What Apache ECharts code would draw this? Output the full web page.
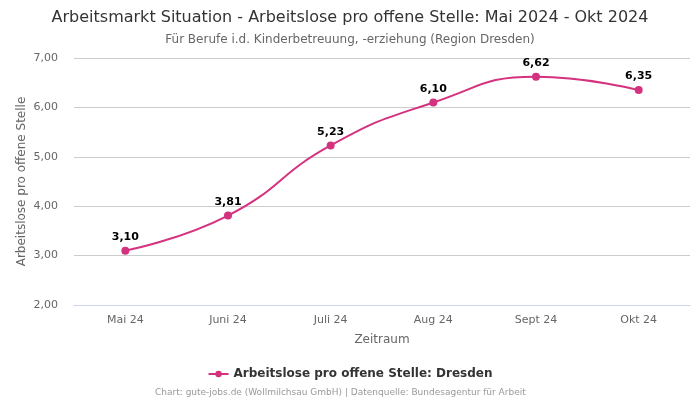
<!DOCTYPE html>
<html><head><meta charset="utf-8">
<script src="https://cdn.jsdelivr.net/npm/echarts@6/dist/echarts.min.js"></script>
<style>html,body{margin:0;padding:0;background:#fff}#c{width:700px;height:400px}</style>
</head><body><div id="c"></div>
<script>
var categories = ["Mai 24","Juni 24","Juli 24","Aug 24","Sept 24","Okt 24"];
var values = [3.10, 3.81, 5.23, 6.10, 6.62, 6.35];
var seriesName = "Arbeitslose pro offene Stelle: Dresden";
var chart = echarts.init(document.getElementById('c'));
var fmt = function(v){ return Number(v).toFixed(2).replace('.', ','); };
chart.setOption({
  animation:false,
  textStyle:{fontFamily:'DejaVu Sans'},
  title:[
    {text:'Arbeitsmarkt Situation - Arbeitslose pro offene Stelle: Mai 2024 - Okt 2024', left:'center', top:5,
     textStyle:{fontSize:16, fontWeight:'normal', color:'#333', fontFamily:'DejaVu Sans'}},
    {text:'Für Berufe i.d. Kinderbetreuung, -erziehung (Region Dresden)', left:'center', top:29,
     textStyle:{fontSize:12, fontWeight:'normal', color:'#666', fontFamily:'DejaVu Sans'}},
    {text:'Chart: gute-jobs.de (Wollmilchsau GmbH) | Datenquelle: Bundesagentur für Arbeit', left:150, top:383,
     textStyle:{fontSize:9, fontWeight:'normal', color:'#999', fontFamily:'DejaVu Sans'}}
  ],
  legend:{top:363, left:'center', itemWidth:20, itemHeight:8,
    textStyle:{fontSize:12, fontWeight:'bold', color:'#333'}, data:[seriesName]},
  grid:{left:74, right:10, top:58, bottom:95},
  xAxis:{type:'category', data:categories, boundaryGap:true,
    name:'Zeitraum', nameLocation:'middle', nameGap:29, nameTextStyle:{fontSize:12, color:'#666'},
    axisLine:{lineStyle:{color:'#ccd6eb'}}, axisTick:{show:false},
    axisLabel:{fontSize:11, color:'#666', margin:10}},
  yAxis:{type:'value', min:2, max:7, interval:1,
    name:'Arbeitslose pro offene Stelle', nameLocation:'middle', nameGap:46, nameMoveOverlap:false,
    nameTextStyle:{fontSize:12, color:'#666'},
    axisLabel:{formatter:fmt, fontSize:11, color:'#666', margin:16},
    splitLine:{lineStyle:{color:'#ccc'}}, axisLine:{show:false}, axisTick:{show:false}},
  series:[{name:seriesName, type:'line', data:values, smooth:0.5,
    symbol:'circle', symbolSize:8,
    itemStyle:{color:'#d4317e'}, lineStyle:{color:'#d4317e', width:2},
    label:{show:true, position:'top', formatter:function(p){return fmt(p.value);},
      fontSize:11, fontWeight:'bold', color:'#000', distance:4}}]
});
</script></body></html>
